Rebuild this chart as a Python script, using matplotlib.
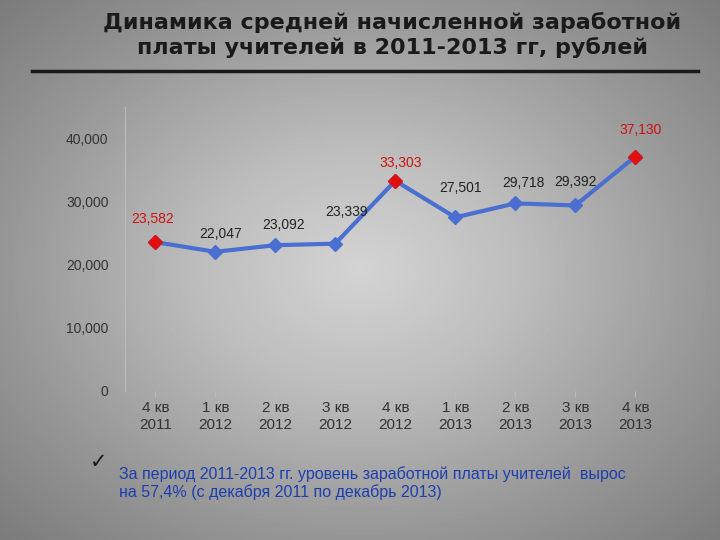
import numpy as np
import matplotlib.pyplot as plt

plt.rcParams['font.family'] = ['Liberation Sans', 'DejaVu Sans']

periods = ["4 кв\n2011", "1 кв\n2012", "2 кв\n2012", "3 кв\n2012", "4 кв\n2012",
           "1 кв\n2013", "2 кв\n2013", "3 кв\n2013", "4 кв\n2013"]
salary = [23582, 22047, 23092, 23339, 33303, 27501, 29718, 29392, 37130]
highlight = [0, 4, 8]
label_offsets = [(-2, 14), (4, 10), (6, 12), (8, 20), (4, 10), (4, 18), (6, 12), (0, 14), (4, 16)]

fig = plt.figure(figsize=(7.2, 5.4), dpi=100)

# light gray radial gradient background
bg = fig.add_axes([0, 0, 1, 1])
yy, xx = np.mgrid[-1:1:300j, -1:1:400j]
r = np.sqrt(xx**2 + yy**2)
bg.imshow(r, cmap="Greys", vmin=-1.2, vmax=3.2, aspect="auto", extent=[0, 1, 0, 1])
bg.axis("off")
bg.set_xlim(0, 1)
bg.set_ylim(0, 1)

fig.text(0.545, 0.935, "Динамика средней начисленной заработной\nплаты учителей в 2011-2013 гг, рублей",
         ha="center", va="center", fontsize=16, fontweight="bold", color="#1a1a1a",
         linespacing=1.2, family=["DejaVu Sans"])
bg.plot([0.045, 0.97], [0.868, 0.868], color="#1a1a1a", lw=2.5)

ax = fig.add_axes([0.174, 0.276, 0.75, 0.526])
ax.patch.set_alpha(0)
x = np.arange(len(salary))
ax.plot(x, salary, color="#4a6fd0", lw=3, marker="D", ms=7, mfc="#4a6fd0", mec="#4a6fd0", zorder=2)
ax.plot(x[highlight], [salary[i] for i in highlight], ls="none", marker="D", ms=7,
        mfc="#e01010", mec="#e01010", zorder=3)
for i, v in enumerate(salary):
    ax.annotate(f"{v:,}", (i, v), xytext=label_offsets[i], textcoords="offset points",
                ha="center", fontsize=10, color="#d01010" if i in highlight else "#222222")

ax.set_xlim(-0.5, len(salary) - 0.5)
ax.set_ylim(0, 45000)
ax.set_yticks([0, 10000, 20000, 30000, 40000])
ax.set_yticklabels([f"{t:,}" for t in [0, 10000, 20000, 30000, 40000]], fontsize=10, color="#333333")
ax.set_xticks(x)
ax.set_xticklabels(periods, fontsize=11, color="#333333")
for s in ["top", "right", "bottom"]:
    ax.spines[s].set_visible(False)
ax.spines["left"].set_color("#bbbbbb")
ax.tick_params(axis="y", length=0, pad=12)
ax.tick_params(axis="x", length=4, color="#bbbbbb")

fig.text(0.125, 0.145, "✓", fontsize=15, color="#1a1a1a", ha="left", va="center",
         family=["DejaVu Sans"])
fig.text(0.165, 0.105, "За период 2011-2013 гг. уровень заработной платы учителей  вырос\nна 57,4% (с декабря 2011 по декабрь 2013)",
         fontsize=11.5, color="#1c3fb0", ha="left", va="center", linespacing=1.2)

fig.savefig("out.png", dpi=100)
